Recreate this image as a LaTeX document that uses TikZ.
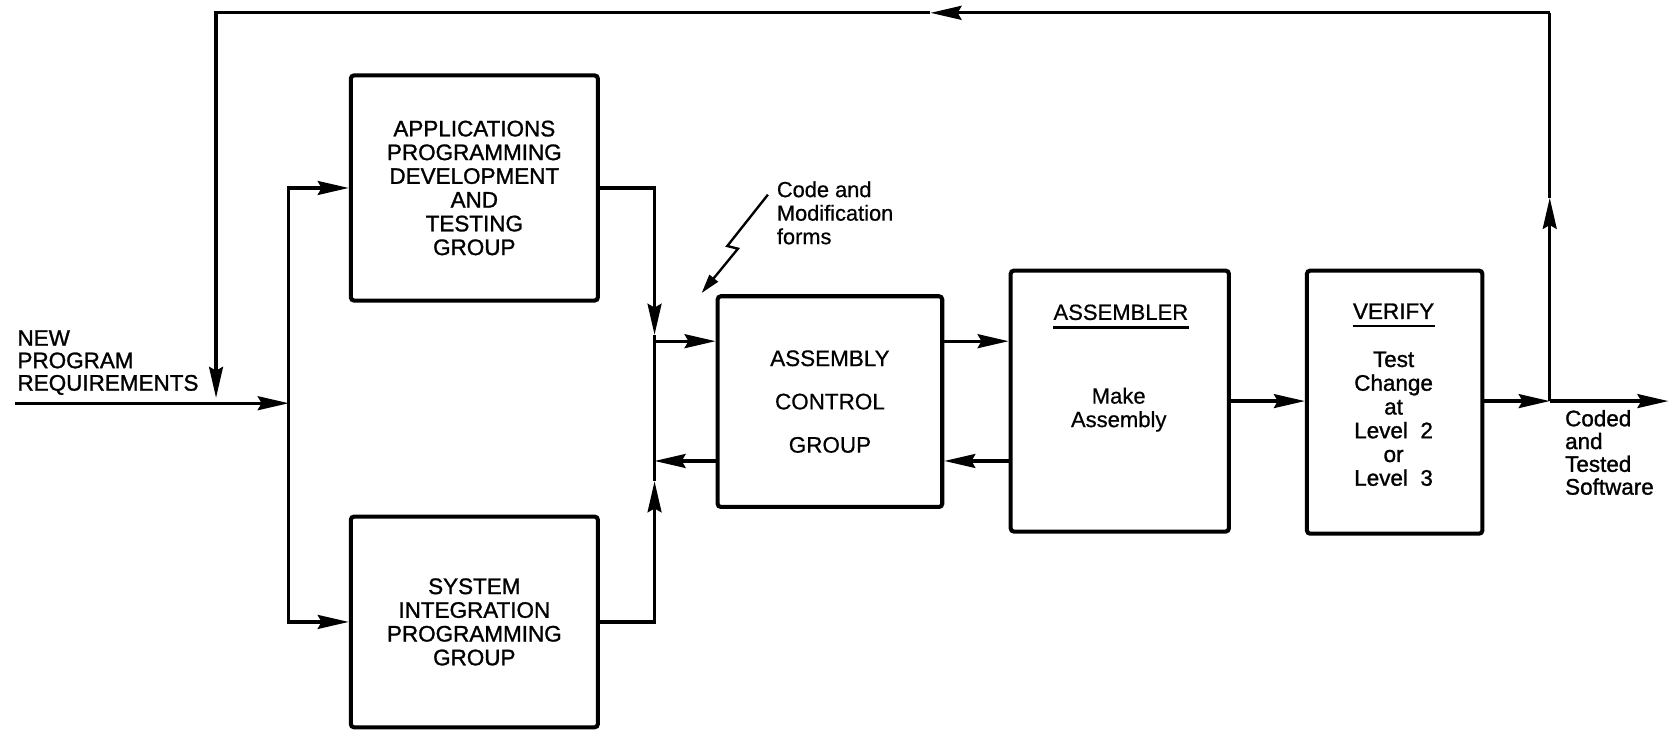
\documentclass[tikz,border=0pt]{standalone}
\usepackage{fontspec}
\setmainfont{Liberation Sans}
\newfontfamily\medfont{Liberation Sans}[FakeBold=1.2]
\newfontfamily\lightfont{Liberation Sans}[FakeBold=0.6]
\usetikzlibrary{arrows.meta,calc}
\begin{document}
\begin{tikzpicture}[x=0.5pt,y=-0.5pt,
  conn/.style={line width=1.5pt},
  arr/.style={conn,-{Stealth[length=14.5pt,width=6.5pt,inset=1.8pt]}},
  zig/.style={line width=1.1pt,-{Triangle[length=9pt,width=5pt]}},
  ul/.style={line width=1.1pt},
  box/.style={draw,line width=1.9pt,rounded corners=1.5pt,inner sep=0pt,align=center},
  heavy/.style={font=\medfont\fontsize{10.5}{11.1}\selectfont},
  light/.style={font=\lightfont\fontsize{10.3}{11}\selectfont},
  lbl/.style={inner sep=0pt,align=left}]
\useasboundingbox (0,0) rectangle (1568,682);

% boxes
\node[box,heavy,minimum width=115.5pt,minimum height=105.25pt] (APD) at (443.5,175.75)
  {APPLICATIONS\\PROGRAMMING\\DEVELOPMENT\\AND\\TESTING\\GROUP};
\node[box,heavy,minimum width=115.5pt,minimum height=98.5pt] (SIP) at (443.5,581.5)
  {SYSTEM\\INTEGRATION\\PROGRAMMING\\GROUP};
\node[box,minimum width=105pt,minimum height=98.5pt,font=\lightfont\fontsize{10.5}{20.25}\selectfont] (ACG) at (776,375.5)
  {ASSEMBLY\\CONTROL\\GROUP};
\node[box,minimum width=102pt,minimum height=122pt] (ASM) at (1047,375) {};
\node[box,minimum width=82pt,minimum height=123pt] (VER) at (1304,376) {};

% texts inside assembler / verify
\node[inner sep=0pt,light] (asmT) at (1048,292) {ASSEMBLER};
\draw[ul] ([yshift=-3.2pt]asmT.south west) -- ([yshift=-3.2pt]asmT.south east);
\node[inner sep=0pt,align=center,light] (asmB) at (1046,383) {Make\\Assembly};
\node[inner sep=0pt,heavy] (verT) at (1303,291) {VERIFY};
\draw[ul] ([yshift=-3pt]verT.south west) -- ([yshift=-3pt]verT.south east);
\node[inner sep=0pt,align=center,heavy] (verB) at (1303,391.5)
  {Test\\Change\\at\\Level\ \ 2\\or\\Level\ \ 3};

% free labels
\node[lbl,font=\medfont\fontsize{10.5}{10.5}\selectfont,anchor=west] (newreq) at (16,339)
  {NEW\\PROGRAM\\REQUIREMENTS};
\node[lbl,font=\lightfont\fontsize{10.2}{11}\selectfont,anchor=west] (code) at (726,199)
  {Code and\\Modification\\forms};
\node[lbl,font=\medfont\fontsize{10.5}{10.65}\selectfont,anchor=west] (coded) at (1463,423)
  {Coded\\and\\Tested\\Software};

% coordinates
\coordinate (inp) at (14,377);
\coordinate (split) at (270,377);
\coordinate (jTopTip) at (612,313);
\coordinate (jBotTip) at (612,450);
\coordinate (jIn) at (612,319);
\coordinate (jOut) at (612,431);
\coordinate (junc) at (1449,375);
\coordinate (outEnd) at (1560,375);
\coordinate (upTip) at (1449,185);
\coordinate (TR) at (1449,12);
\coordinate (leftTip) at (870,12);
\coordinate (TL) at (202,12);
\coordinate (fbEnd) at (202,372);
\coordinate (L1) at (718,182);
\coordinate (L2) at (680,230);
\coordinate (L3) at (690,232.5);
\coordinate (L4) at (656,274);

% connectors
\draw[arr] (inp) -- (split);
\draw[arr] (split) |- (APD.west);
\draw[arr] (split) |- (SIP.west);
\draw[arr] (APD.east) -| (jTopTip);
\draw[conn] (jTopTip) -- (jBotTip);
\draw[arr] (SIP.east) -| (jBotTip);
\draw[arr] (jIn) -- (jIn -| ACG.west);
\draw[arr] (jOut -| ACG.west) -- (jOut);
\draw[arr] (jIn -| ACG.east) -- (jIn -| ASM.west);
\draw[arr] (jOut -| ASM.west) -- (jOut -| ACG.east);
\draw[arr] (ASM.east) -- (ASM.east -| VER.west);
\draw[arr] (VER.east |- junc) -- (junc);
\draw[arr] (junc) -- (outEnd);
\draw[arr] (junc) -- (upTip);
\draw[conn] (upTip) -- (TR);
\draw[arr] (TR) -- (leftTip);
\draw[arr] (leftTip) -- (TL) -- (fbEnd);
\draw[zig] (L1) -- (L2) -- (L3) -- (L4);
\end{tikzpicture}
\end{document}
